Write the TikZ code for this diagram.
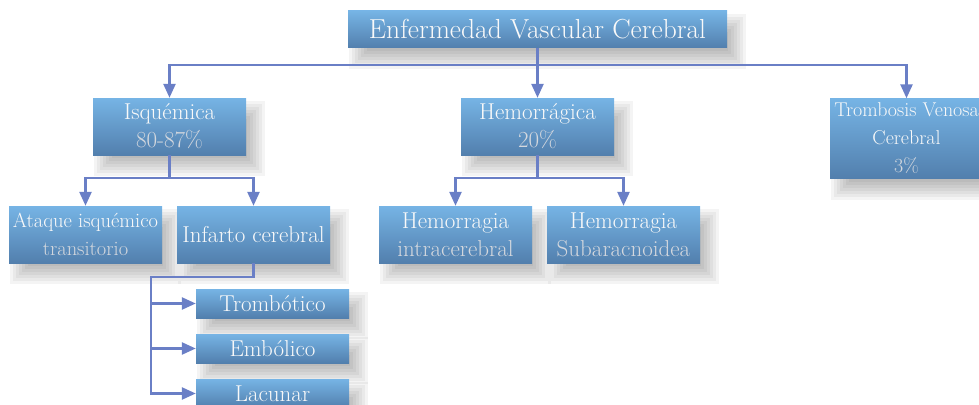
\documentclass[tikz,border=0pt]{standalone}
\usepackage{tikz}
\usetikzlibrary{arrows.meta, calc, backgrounds}
\definecolor{boxtop}{HTML}{76B4E5}
\definecolor{boxmid}{HTML}{66A0D6}
\definecolor{boxbot}{HTML}{527FAD}
\definecolor{linkblue}{HTML}{6A7FC6}
\definecolor{pctgray}{HTML}{D4D8DE}
\tikzstyle{box} = [rectangle, text centered, align=center, minimum width=153pt, minimum height=57pt, inner sep=0pt,
    top color=boxtop, middle color=boxmid, bottom color=boxbot, text=white!95!gray,
    font=\fontsize{23}{28}\selectfont]
\tikzstyle{leaf} = [box, minimum height=29pt]
\tikzstyle{link} = [draw=linkblue, line width=2.5pt, >={Triangle[width=12pt, length=14pt]}]

\begin{document}
\begin{tikzpicture}[x=1pt, y=-1pt]
        \useasboundingbox (0, 0) rectangle (979, 404);

        \node[box, minimum width=379pt, minimum height=37pt, font=\fontsize{27.5}{28}\selectfont] at (537.5, 29.5) (title) {Enfermedad Vascular Cerebral};
        \node[box] at (169.5, 126.5) (isq) {Isqu\'emica\\ \textcolor{pctgray}{80-87\%}};
        \node[box] at (537.5, 126.5) (hem) {Hemorr\'agica\\ \textcolor{pctgray}{20\%}};
        \node[box, minimum height=80pt, font=\fontsize{20}{28}\selectfont] at (906.5, 138.5) (tvc) {Trombosis Venosa\\ Cerebral\\ \textcolor{pctgray}{3\%}};
        \node[box, font=\fontsize{20.5}{28}\selectfont] at (85.5, 234.5) (ataque) {Ataque isqu\'emico\\ \textcolor{pctgray}{transitorio}};
        \node[box] at (253.5, 234.5) (infarto) {Infarto cerebral};
        \node[box] at (455.5, 234.5) (intra) {Hemorragia\\ \textcolor{pctgray}{intracerebral}};
        \node[box] at (623.5, 234.5) (subar) {Hemorragia\\ \textcolor{pctgray}{Subaracnoidea}};
        \node[leaf] at (272.5, 303.5) (tromb) {Tromb\'otico};
        \node[leaf] at (272.5, 348.5) (embol) {Emb\'olico};
        \node[leaf] at (272.5, 393.5) (lacun) {Lacunar};

        % soft shadows
        \begin{pgfonlayer}{background}
            \foreach \n in {title, isq, hem, tvc, ataque, infarto, intra, subar, tromb, embol, lacun}
                \foreach \d in {-9, -6, -3, 0, 3, 6, 9}
                    \fill[black, opacity=0.045] ($(\n.north west)+(10-\d, 12-\d)$) rectangle ($(\n.south east)+(10+\d, 12+\d)$);
        \end{pgfonlayer}

        \draw[link, ->] (title.south) -- ++(0, 17) -| (isq.north);
        \draw[link, ->] (title.south) -- (hem.north);
        \draw[link, ->] (title.south) -- ++(0, 17) -| (tvc.north);
        \draw[link, ->] (isq.south) -- ++(0, 23) -| (ataque.north);
        \draw[link, ->] (isq.south) -- ++(0, 23) -| (infarto.north);
        \draw[link, ->] (hem.south) -- ++(0, 23) -| (intra.north);
        \draw[link, ->] (hem.south) -- ++(0, 23) -| (subar.north);

        \coordinate (spine) at (151, 277);
        \draw[link, ->] (infarto.south) |- (spine) |- (tromb.west);
        \draw[link, ->] (spine) |- (embol.west);
        \draw[link, ->] (spine) |- (lacun.west);
    \end{tikzpicture}
\end{document}
